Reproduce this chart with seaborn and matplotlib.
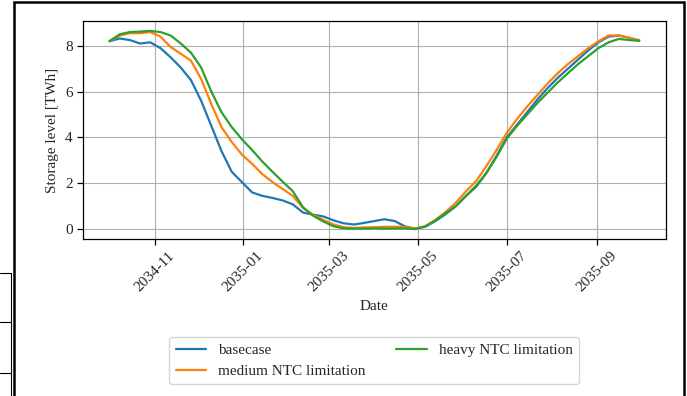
import numpy as np
import pandas as pd
import matplotlib
matplotlib.use("Agg")
import matplotlib.pyplot as plt
import matplotlib.dates as mdates
from matplotlib.patches import Rectangle
from matplotlib.lines import Line2D
import seaborn as sns

# weekly samples, 2034-10-01 .. 2035-09-30
dates = pd.date_range("2034-10-01", periods=53, freq="7D")

basecase = [8.20, 8.32, 8.25, 8.10, 8.15, 7.90, 7.50, 7.05, 6.50, 5.60,
            4.50, 3.40, 2.50, 2.05, 1.60, 1.45, 1.36, 1.25, 1.08, 0.72,
            0.63, 0.55, 0.38, 0.25, 0.20, 0.27, 0.35, 0.43, 0.35, 0.12,
            0.02, 0.10, 0.35, 0.65, 1.00, 1.45, 1.85, 2.45, 3.20, 4.00,
            4.55, 5.10, 5.65, 6.15, 6.60, 7.00, 7.40, 7.80, 8.15, 8.40,
            8.45, 8.35, 8.22]

medium = [8.20, 8.45, 8.55, 8.55, 8.60, 8.40, 7.95, 7.65, 7.35, 6.55,
          5.45, 4.45, 3.80, 3.25, 2.85, 2.40, 2.05, 1.75, 1.45, 0.92,
          0.62, 0.40, 0.20, 0.08, 0.05, 0.07, 0.08, 0.10, 0.10, 0.10,
          0.02, 0.12, 0.40, 0.75, 1.15, 1.65, 2.10, 2.75, 3.45, 4.20,
          4.80, 5.35, 5.85, 6.35, 6.80, 7.20, 7.55, 7.90, 8.20, 8.45,
          8.45, 8.35, 8.25]

heavy = [8.20, 8.50, 8.60, 8.62, 8.65, 8.60, 8.45, 8.10, 7.70, 7.05,
         6.00, 5.10, 4.45, 3.92, 3.45, 2.95, 2.50, 2.07, 1.65, 0.95,
         0.58, 0.33, 0.12, 0.03, 0.02, 0.02, 0.03, 0.02, 0.03, 0.03,
         0.00, 0.12, 0.38, 0.70, 1.00, 1.45, 1.90, 2.45, 3.15, 3.95,
         4.50, 5.00, 5.50, 5.95, 6.40, 6.80, 7.20, 7.55, 7.90, 8.15,
         8.30, 8.25, 8.22]

labels = ["basecase", "medium NTC limitation", "heavy NTC limitation"]

df = pd.concat([
    pd.DataFrame({"Date": dates, "value": v, "scenario": lab})
    for v, lab in zip([basecase, medium, heavy], labels)
])

sns.set_style("ticks")
plt.rcParams["font.family"] = ["Liberation Serif", "DejaVu Serif"]
plt.rcParams["font.size"] = 11

fig = plt.figure(figsize=(6.87, 3.96), dpi=100)
ax = fig.add_axes([0.1208, 0.3965, 0.969 - 0.1208, 0.947 - 0.3965])

sns.lineplot(data=df, x="Date", y="value", hue="scenario",
             palette=["#1f77b4", "#ff7f0e", "#2ca02c"], linewidth=1.6, ax=ax)

ax.grid(True, color="#b0b0b0", linewidth=0.8)
ax.set_axisbelow(True)
for s in ax.spines.values():
    s.set_color("black")
    s.set_linewidth(0.9)
ax.tick_params(axis="both", direction="out", length=4, width=0.9,
               color="black", labelsize=11)
ax.xaxis.set_major_locator(mdates.MonthLocator(bymonth=[1, 3, 5, 7, 9, 11]))
ax.xaxis.set_major_formatter(mdates.DateFormatter("%Y-%m"))
for lab in ax.get_xticklabels():
    lab.set_rotation(45)
    lab.set_ha("center")
ax.set_yticks([0, 2, 4, 6, 8])
ax.set_ylabel("Storage level [TWh]", fontsize=11)
ax.set_xlabel("Date", fontsize=11)
ax.margins(x=0.05, y=0.05)

handles, labs = ax.get_legend_handles_labels()
ax.legend(handles, labs, loc="upper center", bbox_to_anchor=(0.5, -0.45),
          ncol=2, borderaxespad=0, frameon=True, fontsize=11,
          edgecolor="#cccccc", fancybox=True)

# outer document frame and table fragments
fig.add_artist(Rectangle((13.5 / 687, -0.2), (683.5 - 13.5) / 687, 1.2 - 1.5 / 396,
                         transform=fig.transFigure, fill=False,
                         edgecolor="black", linewidth=1.8, clip_on=False))
for yy in [272.7, 322.0, 372.7]:
    fig.add_artist(Line2D([0, 10.5 / 687], [1 - yy / 396] * 2,
                          transform=fig.transFigure, color="black", linewidth=0.8))
fig.add_artist(Line2D([10.5 / 687] * 2, [1 - 272.5 / 396, 0],
                      transform=fig.transFigure, color="black", linewidth=0.8))

fig.savefig("out.png", dpi=100)
